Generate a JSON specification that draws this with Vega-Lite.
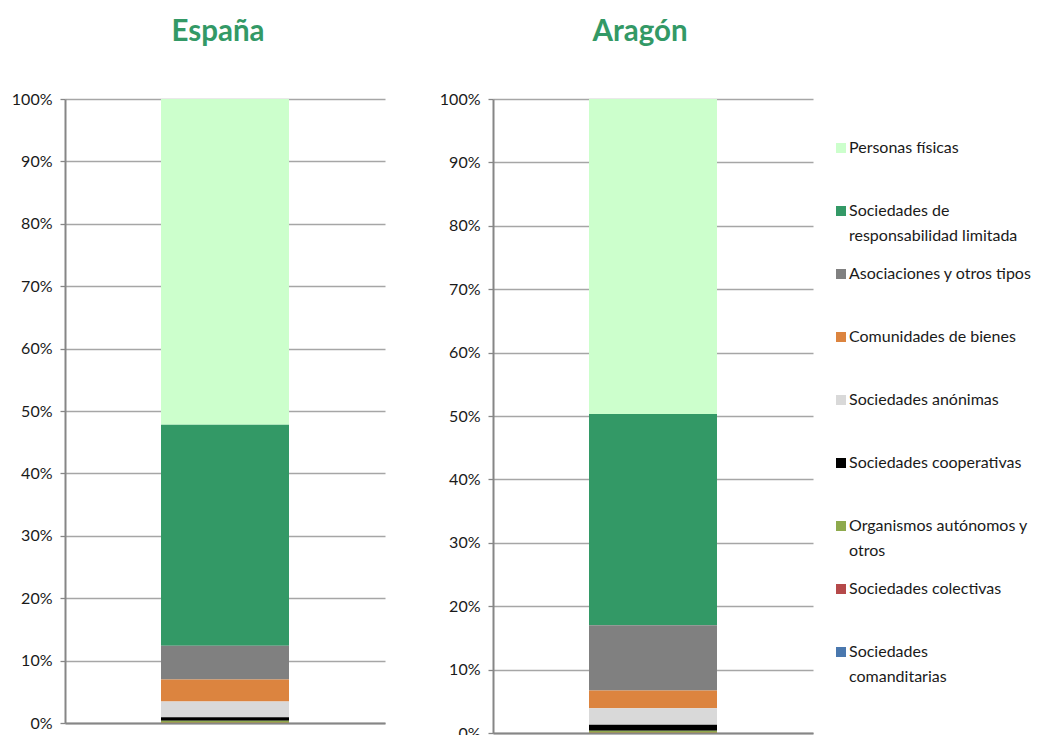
{
  "$schema": "https://vega.github.io/schema/vega-lite/v6.json",
  "padding": {"left": 11, "top": 16, "right": 0, "bottom": 0},
  "background": "white",
  "data": {"values": [
    {"region": "España", "tipo": "Personas físicas", "valor": 52.2, "orden": 9},
    {"region": "España", "tipo": "Sociedades de responsabilidad limitada", "valor": 35.4, "orden": 8},
    {"region": "España", "tipo": "Asociaciones y otros tipos", "valor": 5.4, "orden": 7},
    {"region": "España", "tipo": "Comunidades de bienes", "valor": 3.5, "orden": 6},
    {"region": "España", "tipo": "Sociedades anónimas", "valor": 2.55, "orden": 5},
    {"region": "España", "tipo": "Sociedades cooperativas", "valor": 0.55, "orden": 4},
    {"region": "España", "tipo": "Organismos autónomos y otros", "valor": 0.3, "orden": 3},
    {"region": "España", "tipo": "Sociedades colectivas", "valor": 0.05, "orden": 2},
    {"region": "España", "tipo": "Sociedades comanditarias", "valor": 0.01, "orden": 1},
    {"region": "Aragón", "tipo": "Personas físicas", "valor": 49.7, "orden": 9},
    {"region": "Aragón", "tipo": "Sociedades de responsabilidad limitada", "valor": 33.3, "orden": 8},
    {"region": "Aragón", "tipo": "Asociaciones y otros tipos", "valor": 10.3, "orden": 7},
    {"region": "Aragón", "tipo": "Comunidades de bienes", "valor": 2.8, "orden": 6},
    {"region": "Aragón", "tipo": "Sociedades anónimas", "valor": 2.6, "orden": 5},
    {"region": "Aragón", "tipo": "Sociedades cooperativas", "valor": 0.95, "orden": 4},
    {"region": "Aragón", "tipo": "Organismos autónomos y otros", "valor": 0.3, "orden": 3},
    {"region": "Aragón", "tipo": "Sociedades colectivas", "valor": 0.04, "orden": 2},
    {"region": "Aragón", "tipo": "Sociedades comanditarias", "valor": 0.01, "orden": 1}
  ]},
  "spacing": 54,
  "hconcat": [
    {
      "title": {"text": "España", "dx": -7, "offset": 44},
      "width": 320,
      "height": 624,
      "transform": [{"filter": "datum.region == 'España'"}],
      "mark": {"type": "bar", "width": 128},
      "encoding": {
        "x": {"field": "region", "type": "nominal", "axis": {"labels": false, "ticks": false, "title": null, "domain": true, "domainColor": "#868686", "domainWidth": 2}},
        "y": {"field": "valor", "type": "quantitative", "stack": "normalize", "axis": {"title": null, "format": ".0%", "values": [0, 0.1, 0.2, 0.3, 0.4, 0.5, 0.6, 0.7, 0.8, 0.9, 1]}},
        "color": {"field": "tipo", "type": "nominal"},
        "order": {"field": "orden", "type": "quantitative"}
      }
    },
    {
      "title": {"text": "Aragón", "dx": -13, "offset": 44},
      "width": 320,
      "height": 634,
      "transform": [{"filter": "datum.region == 'Aragón'"}],
      "mark": {"type": "bar", "width": 128},
      "encoding": {
        "x": {"field": "region", "type": "nominal", "axis": {"labels": false, "ticks": false, "title": null, "domain": true, "domainColor": "#868686", "domainWidth": 2}},
        "y": {"field": "valor", "type": "quantitative", "stack": "normalize", "axis": {"title": null, "format": ".0%", "values": [0, 0.1, 0.2, 0.3, 0.4, 0.5, 0.6, 0.7, 0.8, 0.9, 1]}},
        "color": {
          "field": "tipo", "type": "nominal",
          "scale": {
            "domain": ["Personas físicas", "Sociedades de responsabilidad limitada", "Asociaciones y otros tipos", "Comunidades de bienes", "Sociedades anónimas", "Sociedades cooperativas", "Organismos autónomos y otros", "Sociedades colectivas", "Sociedades comanditarias"],
            "range": ["#ccffcc", "#339966", "#808080", "#dc843f", "#d9d9d9", "#000000", "#8eaa4d", "#b5494a", "#4a78ae"]
          },
          "legend": {
            "orient": "none", "legendX": 768, "legendY": 41,
            "title": null, "padding": 0,
            "symbolType": "square",
            "symbolSize": 100, "symbolStrokeWidth": 0, "symbolOpacity": 1,
            "labelFont": "Lato", "labelFontSize": 16, "labelColor": "#1a1a1a",
            "labelBaseline": "middle", "labelOffset": 0, "labelLimit": 300,
            "rowPadding": 22,
            "encode": {"labels": {"update": {"lineHeight": {"value": 25}}}},
            "labelExpr": "datum.label == 'Sociedades de responsabilidad limitada' ? ['Sociedades de', 'responsabilidad limitada'] : datum.label == 'Organismos autónomos y otros' ? ['Organismos autónomos y', 'otros'] : datum.label == 'Sociedades comanditarias' ? ['Sociedades', 'comanditarias'] : [datum.label, '']"
          }
        },
        "order": {"field": "orden", "type": "quantitative"}
      }
    }
  ],
  "resolve": {"scale": {"color": "shared"}},
  "config": {
    "view": {"stroke": null},
    "title": {"font": "Lato", "fontSize": 29.5, "fontWeight": "bold", "color": "#339966", "anchor": "middle", "frame": "group"},
    "axisY": {
      "grid": true, "gridColor": "#a6a6a6", "gridWidth": 1.3,
      "domainColor": "#868686", "domainWidth": 2,
      "tickColor": "#868686", "tickSize": 5, "tickWidth": 1.3,
      "labelFont": "Lato", "labelFontSize": 16, "labelColor": "#1a1a1a", "labelPadding": 8
    }
  }
}
